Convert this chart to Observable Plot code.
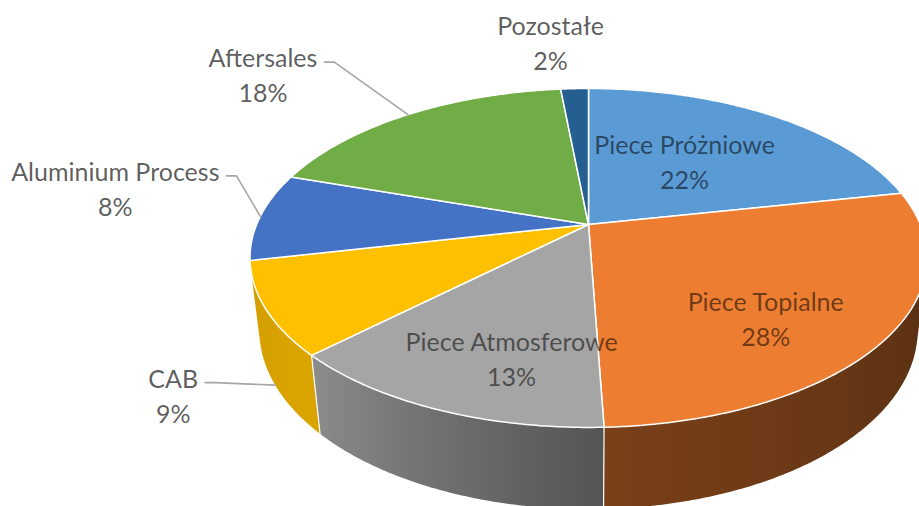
<!DOCTYPE html>
<html>
<head>
<meta charset="utf-8">
<script src="https://cdn.jsdelivr.net/npm/d3@7"></script>
<script src="https://cdn.jsdelivr.net/npm/@observablehq/plot@0.6"></script>
<style>
  html, body { margin: 0; padding: 0; background: #ffffff; }
  #chart svg { display: block; }
</style>
</head>
<body>
<div id="chart"></div>
<script>
// ---------- data ----------
const categories = ["Piece Próżniowe", "Piece Topialne", "Piece Atmosferowe", "CAB", "Aluminium Process", "Aftersales", "Pozostałe"];
const values = [21.8, 27.6, 13.4, 8.8, 8.4, 18.4, 1.6];
const colors = ["#5B9BD5", "#ED7D31", "#A5A5A5", "#FFC000", "#4472C4", "#70AD47", "#255E91"];

// ---------- layout / style ----------
const W = 919, H = 506;
const view = {cx: 588, cy: 224, fx: 1470, fy: 1488, dist: 4.43, tilt: 29, thickness: 0.25};
const labelOutside = [false, false, false, true, true, true, true];
const labelLeader = [false, false, false, true, true, true, false];
const labelOffset = [[-86, 45], [-120, -22], [75, -52], [-102, 9], [-145, -29], [-145, -41], [-24, -47]];
const fontSize = 25, lineHeight = 1.4, fontFamily = "Lato";

const rad = Math.PI / 180;
const sT = Math.sin(view.tilt * rad), cT = Math.cos(view.tilt * rad);
function project(thetaDeg, r, Y) {
  const t = thetaDeg * rad, X = r * Math.sin(t), Z = r * Math.cos(t);
  const up = Y * cT + Z * sT;
  const dep = view.dist + Z * cT - Y * sT;
  return [view.cx + view.fx * X / dep, view.cy - view.fy * up / dep];
}
function arcPts(a0, a1, Y) {
  const n = Math.max(2, Math.ceil(Math.abs(a1 - a0) / 0.5));
  const pts = [];
  for (let k = 0; k <= n; k++) pts.push(project(a0 + (a1 - a0) * k / n, 1, Y));
  return pts;
}

const arcs = d3.pie().sort(null).value(d => d)(values).map(a => ({
  start: a.startAngle / rad, end: a.endAngle / rad, index: a.index
}));
const vMin = Math.acos(-1 / (view.dist * cT)) / rad;
const vMax = 360 - vMin;
const h = -view.thickness;
const shade = d3.scaleLinear().domain([vMin, 178, 227, vMax]).range([0.37, 0.51, 0.86, 0.82]).clamp(true);
const scaleColor = (c, f) => { const q = d3.rgb(c); return d3.rgb(q.r * f, q.g * f, q.b * f).formatHex(); };

// side surfaces
const sideRows = [], gradients = [];
arcs.forEach((a, i) => {
  const a0 = Math.max(a.start, vMin), a1 = Math.min(a.end, vMax);
  if (a1 <= a0) return;
  const top = arcPts(a0, a1, 0), bot = arcPts(a1, a0, h);
  const poly = top.concat(bot);
  poly.push(poly[0]);
  const id = "side" + i;
  poly.forEach(p => sideRows.push({key: id, x: p[0], y: p[1], fill: `url(#${id})`}));
  const xs = top.map(p => p[0]);
  const x1 = d3.min(xs), x2 = d3.max(xs);
  const n = 12, stops = [];
  for (let k = 0; k <= n; k++) {
    const th = a0 + (a1 - a0) * k / n;
    const px = project(th, 1, 0)[0];
    stops.push({o: x2 > x1 ? (px - x1) / (x2 - x1) : 0, c: scaleColor(colors[i], shade(th))});
  }
  stops.sort((u, v) => u.o - v.o);
  gradients.push({id, x1, x2, stops});
});

// radial side edges (white)
const edgeRows = [];
arcs.forEach((a, i) => {
  if (a.start > vMin && a.start < vMax) {
    [project(a.start, 1, 0), project(a.start, 1, h)].forEach(p => edgeRows.push({key: "e" + i, x: p[0], y: p[1]}));
  }
});

// top faces
const topRows = [];
arcs.forEach((a, i) => {
  const c = project(0, 0, 0);
  const poly = [c].concat(arcPts(a.start, a.end, 0), [c]);
  poly.forEach(p => topRows.push({key: "t" + i, x: p[0], y: p[1], fill: colors[i]}));
});

// labels
const ctx = document.createElement("canvas").getContext("2d");
ctx.font = `${fontSize}px ${fontFamily}`;
const labels = arcs.map((a, i) => {
  const mid = (a.start + a.end) / 2;
  const onSide = labelOutside[i] && mid > vMin && mid < vMax;
  const anchor = project(mid, 1, onSide ? h : 0);
  const x = anchor[0] + labelOffset[i][0], y = anchor[1] + labelOffset[i][1];
  const pct = Math.round(values[i]) + "%";
  const w = ctx.measureText(categories[i]).width;
  return {i, x, y, text: categories[i] + "\n" + pct, anchor, w, outside: labelOutside[i]};
});
const leaderRows = [];
labels.forEach(l => {
  if (!labelLeader[l.i]) return;
  const sx = l.x + l.w / 2 + 7, sy = l.y - fontSize * lineHeight / 2 + 6;
  [[sx, sy], [sx + 10, sy], l.anchor].forEach(p => leaderRows.push({key: "l" + l.i, x: p[0], y: p[1]}));
});

const svg = Plot.plot({
  width: W, height: H,
  margin: 0,
  x: {domain: [0, W], range: [0, W], axis: null},
  y: {domain: [0, H], range: [0, H], axis: null},
  color: {type: "identity"},
  style: {background: "#ffffff", fontFamily: fontFamily},
  marks: [
    Plot.line(sideRows, {x: "x", y: "y", z: "key", fill: d => d.fill, stroke: "none"}),
    Plot.line(edgeRows, {x: "x", y: "y", z: "key", stroke: "#ffffff", strokeWidth: 1.2}),
    Plot.line(topRows, {x: "x", y: "y", z: "key", fill: d => d.fill, stroke: "#ffffff", strokeWidth: 1.5, strokeLinejoin: "round"}),
    Plot.line(leaderRows, {x: "x", y: "y", z: "key", stroke: "#A6A6A6", strokeWidth: 1.6}),
    Plot.text(labels.filter(l => !l.outside), {x: "x", y: "y", text: "text", fontSize, lineHeight, fill: "#000000", fillOpacity: 0.55, textAnchor: "middle"}),
    Plot.text(labels.filter(l => l.outside), {x: "x", y: "y", text: "text", fontSize, lineHeight, fill: "#000000", fillOpacity: 0.65, textAnchor: "middle"})
  ]
});

const defs = d3.select(svg).insert("defs", ":first-child");
gradients.forEach(g => {
  const lg = defs.append("linearGradient").attr("id", g.id)
    .attr("gradientUnits", "userSpaceOnUse")
    .attr("x1", g.x1).attr("x2", g.x2).attr("y1", 0).attr("y2", 0);
  g.stops.forEach(s => lg.append("stop").attr("offset", s.o).attr("stop-color", s.c));
});

document.getElementById("chart").appendChild(svg);
</script>
</body>
</html>
